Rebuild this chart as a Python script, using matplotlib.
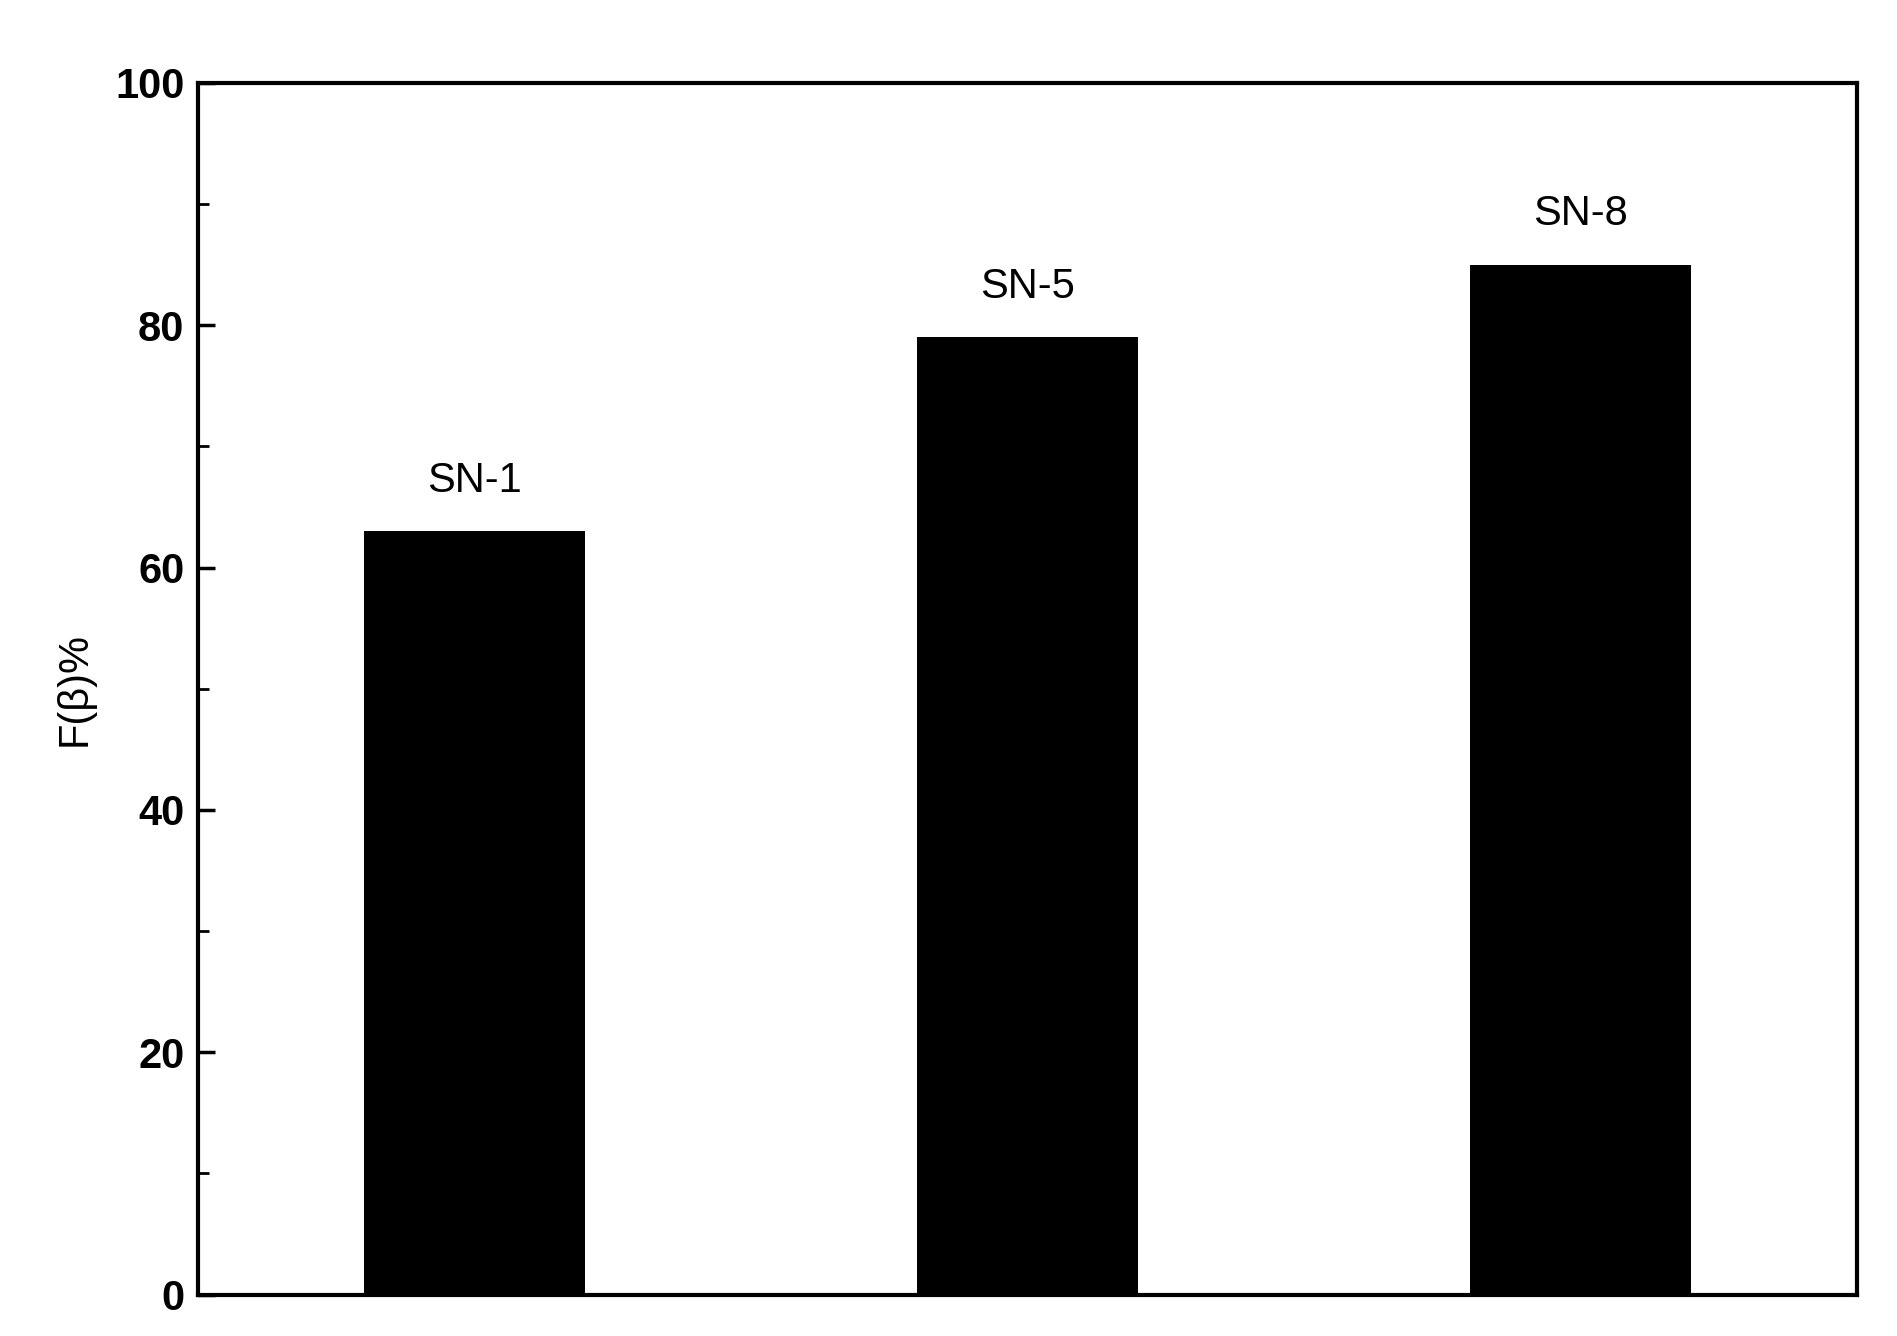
import matplotlib.pyplot as plt
from matplotlib.ticker import MultipleLocator

plt.rcParams['font.family'] = ['Liberation Sans', 'DejaVu Sans']

samples = ['SN-1', 'SN-5', 'SN-8']
f_beta = [63, 79, 85]
positions = [1, 2, 3]

fig = plt.figure(figsize=(18.97, 13.36), dpi=100)
ax = fig.add_axes([0.1045, 0.031, 0.8745, 0.907])

ax.bar(positions, f_beta, width=0.4, color='black')
for x, v, s in zip(positions, f_beta, samples):
    ax.text(x, v + 2.5, s, ha='center', va='bottom', fontsize=30)

ax.set_xlim(0.5, 3.5)
ax.set_ylim(0, 100)
ax.set_xticks([])
ax.yaxis.set_major_locator(MultipleLocator(20))
ax.yaxis.set_minor_locator(MultipleLocator(10))
ax.tick_params(axis='y', which='major', direction='in', length=12, width=2.5,
               labelsize=30, pad=10)
ax.tick_params(axis='y', which='minor', direction='in', length=8, width=2)
for lbl in ax.get_yticklabels():
    lbl.set_fontweight('bold')
for sp in ax.spines.values():
    sp.set_linewidth(3)
ax.set_ylabel('F(β)%', fontsize=30, labelpad=15)

fig.savefig('out.png', dpi=100)
